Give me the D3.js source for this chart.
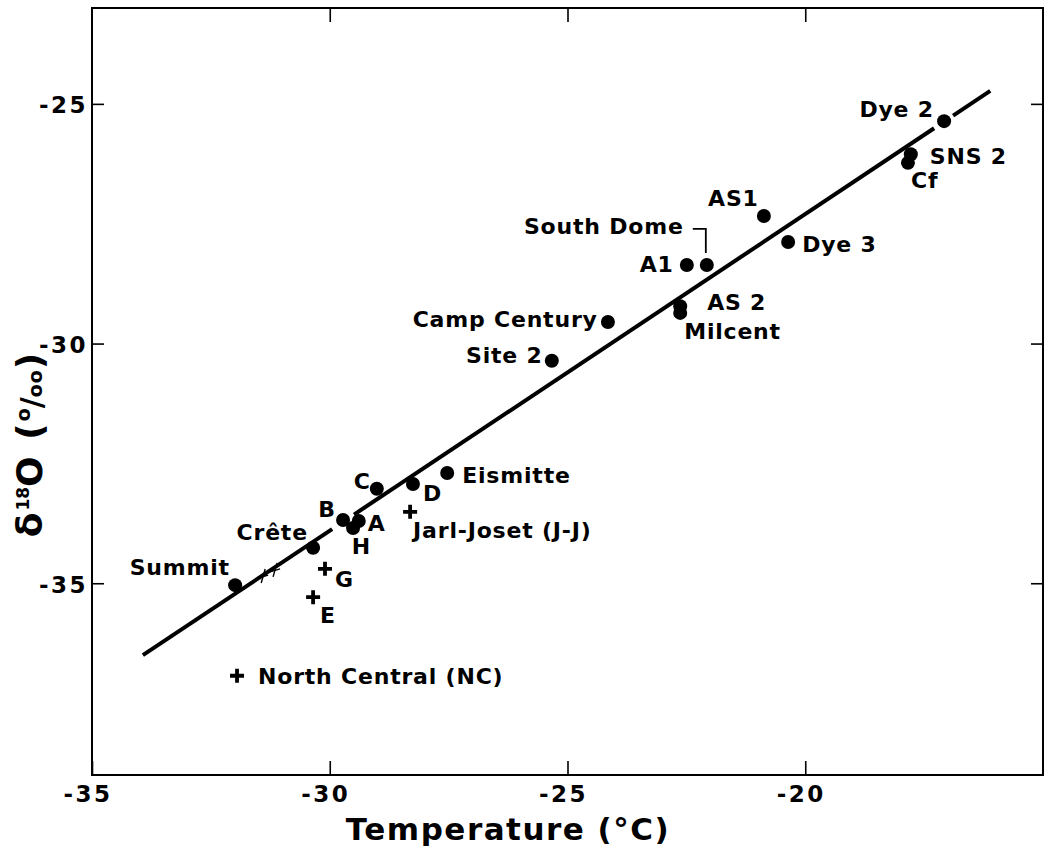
<!DOCTYPE html>
<html><head><meta charset="utf-8">
<script src="https://cdn.jsdelivr.net/npm/d3@7"></script>
<style>
html,body{margin:0;padding:0;background:#fff;}
svg{display:block;}
text{font-family:"DejaVu Sans",sans-serif;font-weight:bold;fill:#000;}
</style></head><body>
<svg id="chart" width="1054" height="848"></svg>
<script>
// ---- data ----
const stations    = ["Summit","Crête","B","A","H","C","D","Eismitte","Site 2","Camp Century","A1","South Dome","AS 2","Milcent","AS1","Dye 3","Dye 2","SNS 2","Cf"];
const stationTemp = [-31.99,-30.35,-29.72,-29.39,-29.51,-29.01,-28.25,-27.53,-25.33,-24.15,-22.49,-22.07,-22.63,-22.63,-20.87,-20.36,-17.08,-17.78,-17.84];
const stationD18O = [-35.04,-34.26,-33.68,-33.70,-33.85,-33.03,-32.93,-32.70,-30.36,-29.55,-28.36,-28.36,-29.22,-29.36,-27.34,-27.88,-25.36,-26.05,-26.23];
const otherSites  = ["Jarl-Joset (J-J)","G","E","North Central (NC)"];
const otherTemp   = [-28.31,-30.10,-30.35,-31.95];
const otherD18O   = [-33.51,-34.70,-35.29,-36.93];
const fitSlope = 0.6605, fitT0 = -33.93, fitD0 = -36.50;
const fitSegments = [[-33.93,-29.95],[-29.49,-17.29],[-16.89,-16.11]];
const scribbleTemp = [-31.40,-31.15];
const scribbleD18O = [-34.85,-34.72];
const xTicks = [-35,-30,-25,-20];
const yTicks = [-25,-30,-35];
const xDomain = [-35,-15], yDomain = [-39,-23];

// ---- layout (label offsets in px from the marker) ----
const labelLayout = {
  "Summit":[-6,-10,"end"], "Crête":[-6,-8,"end"], "B":[-8,-3,"end"], "A":[9,10,"start"],
  "H":[8,26,"middle"], "C":[-7,0,"end"], "D":[10,17,"start"], "Eismitte":[15,10,"start"],
  "Site 2":[-10,2,"end"], "Camp Century":[-11,5,"end"], "A1":[-14,7,"end"],
  "South Dome":[-24,-31,"end"], "AS 2":[27,4,"start"], "Milcent":[4,26,"start"],
  "AS1":[-6,-10,"end"], "Dye 3":[14,10,"start"], "Dye 2":[-11,-4,"end"],
  "SNS 2":[19,10,"start"], "Cf":[3,25,"start"],
  "Jarl-Joset (J-J)":[3,26,"start"], "G":[10,18,"start"], "E":[7,26,"start"],
  "North Central (NC)":[21,8,"start"]
};
const LS = 0.8;

const svg = d3.select("#chart");
const x = d3.scaleLinear().domain(xDomain).range([92,1043]);
const y = d3.scaleLinear().domain(yDomain).range([775,8]);
const fmt = d => (d < 0 ? "-" : "") + Math.abs(d);

// frame
svg.append("rect").attr("x",x(xDomain[0])).attr("y",y(yDomain[1]))
  .attr("width",x(xDomain[1])-x(xDomain[0])).attr("height",y(yDomain[0])-y(yDomain[1]))
  .attr("fill","none").attr("stroke","#000").attr("stroke-width",2);

function styleAxis(g){ g.select(".domain").remove(); g.selectAll("line").attr("stroke","#000").attr("stroke-width",1.6); g.attr("font-family",null).attr("font-size",null); }

const gB = svg.append("g").attr("transform",`translate(0,${y(yDomain[0])})`)
  .call(d3.axisBottom(x).tickValues(xTicks).tickSize(-14).tickFormat(fmt));
styleAxis(gB);
gB.selectAll("text").attr("text-anchor","end").attr("x",20).attr("y",27).attr("dy",null)
  .attr("letter-spacing",2.5).style("font-size","23px");

const gT = svg.append("g").attr("transform",`translate(0,${y(yDomain[1])})`)
  .call(d3.axisTop(x).tickValues(xTicks.slice(1)).tickSize(-14).tickFormat(""));
styleAxis(gT);

const gL = svg.append("g").attr("transform",`translate(${x(xDomain[0])},0)`)
  .call(d3.axisLeft(y).tickValues(yTicks).tickSize(-12).tickFormat(fmt));
styleAxis(gL);
gL.selectAll("text").attr("text-anchor","end").attr("x",-4).attr("y",9).attr("dy",null)
  .attr("letter-spacing",2.5).style("font-size","23px");

const gR = svg.append("g").attr("transform",`translate(${x(xDomain[1])},0)`)
  .call(d3.axisRight(y).tickValues(yTicks).tickSize(-12).tickFormat(""));
styleAxis(gR);

// axis titles
svg.append("text").attr("x",508).attr("y",840).attr("text-anchor","middle")
  .attr("letter-spacing",1.5).style("font-size","31px").text("Temperature (°C)");

const yt = svg.append("text").attr("transform","translate(42,444) rotate(-90)")
  .attr("text-anchor","middle").attr("letter-spacing",2).style("font-size","36px");
yt.append("tspan").text("δ");
yt.append("tspan").attr("dy",-13).style("font-size","17px").attr("letter-spacing",0).text("18");
yt.append("tspan").attr("dy",13).text("O (");
yt.append("tspan").attr("dy",-12).style("font-size","19px").attr("letter-spacing",0).text("o");
yt.append("tspan").attr("dy",12).style("font-size","30px").attr("letter-spacing",0).text("/");
yt.append("tspan").style("font-size","19px").attr("letter-spacing",1).text("oo");
yt.append("tspan").text(")");

// regression line (drawn in segments, with the small breaks of the original)
const fit = t => fitD0 + fitSlope*(t - fitT0);
svg.append("g").selectAll("line").data(fitSegments).join("line")
  .attr("x1",d=>x(d[0])).attr("y1",d=>y(fit(d[0])))
  .attr("x2",d=>x(d[1])).attr("y2",d=>y(fit(d[1])))
  .attr("stroke","#000").attr("stroke-width",4).attr("stroke-linecap","butt");

// small hand marks on the line
const scrib = svg.append("g");
scribbleTemp.forEach((t,i)=>{
  const cx = x(t), cy = y(scribbleD18O[i]);
  scrib.append("path").attr("d",`M${cx-2},${cy+7}L${cx+2},${cy-7}M${cx-5},${cy+2}L${cx+5},${cy-1}`)
    .attr("stroke","#000").attr("stroke-width",1.4).attr("fill","none");
});

// station dots
const stData = stations.map((n,i)=>({name:n,t:stationTemp[i],d:stationD18O[i]}));
svg.append("g").selectAll("circle").data(stData).join("circle")
  .attr("cx",d=>x(d.t)).attr("cy",d=>y(d.d)).attr("r",7).attr("fill","#000");

// other sites (+)
const otData = otherSites.map((n,i)=>({name:n,t:otherTemp[i],d:otherD18O[i]}));
svg.append("g").selectAll("path").data(otData).join("path")
  .attr("d",d=>{const cx=x(d.t),cy=y(d.d),h=7;return `M${cx-h},${cy}H${cx+h}M${cx},${cy-h}V${cy+h}`;})
  .attr("stroke","#000").attr("stroke-width",3.8).attr("fill","none");

// labels
const labs = svg.append("g").style("font-size","22px").attr("letter-spacing",LS);
stData.concat(otData).forEach(d=>{
  const L = labelLayout[d.name];
  const extra = L[2]==="end" ? LS : (L[2]==="middle" ? LS/2 : 0);
  labs.append("text").attr("x",x(d.t)+L[0]+extra).attr("y",y(d.d)+L[1])
    .attr("text-anchor",L[2]).text(d.name);
});

// South Dome leader bracket
const sd = stData.find(d=>d.name==="South Dome");
svg.append("path").attr("d",()=>{const cx=x(sd.t),cy=y(sd.d);return `M${cx-14},${cy-36}H${cx-1}V${cy-12}`;})
  .attr("stroke","#000").attr("stroke-width",1.8).attr("fill","none");
</script>
</body></html>
